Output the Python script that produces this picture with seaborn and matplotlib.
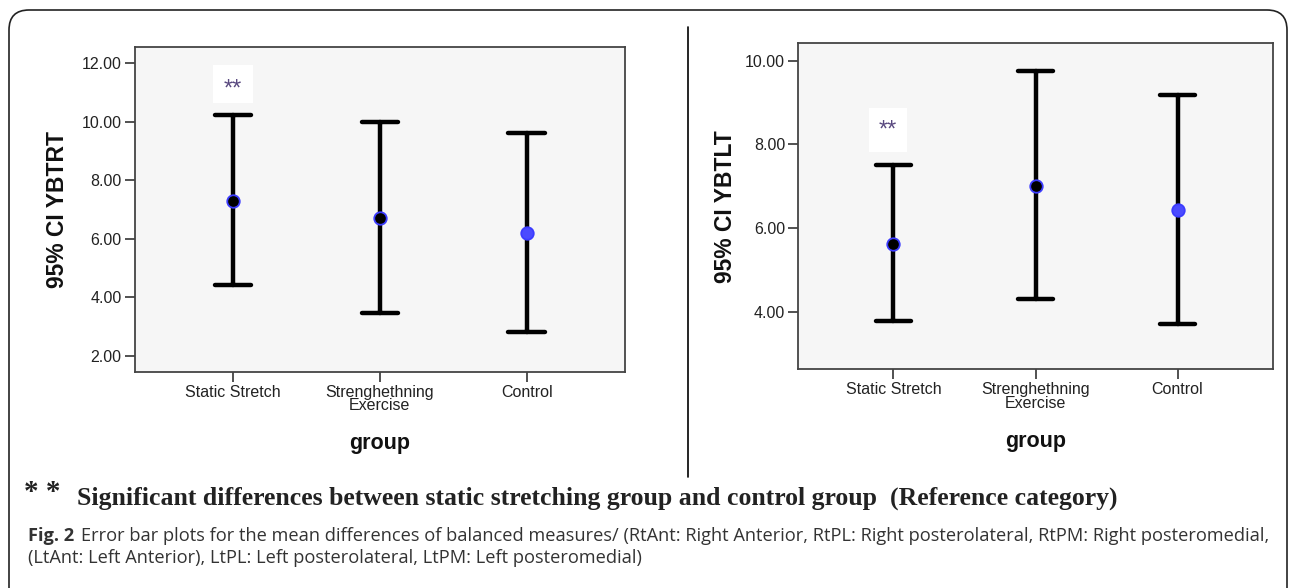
import numpy as np
import pandas as pd
import seaborn as sns
import matplotlib.pyplot as plt
from matplotlib.patches import Rectangle, FancyBboxPatch
from matplotlib.lines import Line2D

# group labels and the 95% CI
groups = ["Static Stretch", "Strenghethning\nExercise", "Control"]

rt_mean = [7.31, 6.71, 6.20]
rt_low = [4.41, 3.47, 2.81]
rt_high = [10.23, 9.99, 9.63]

lt_mean = [5.62, 7.02, 6.44]
lt_low = [3.78, 4.32, 3.72]
lt_high = [7.50, 9.75, 9.18]

rt_ticks = [2, 4, 6, 8, 10, 12]
lt_ticks = [4, 6, 8, 10]

dot_colors = ["black", "black", "#4b4bff"]

note = "Significant differences between static stretching group and control group  (Reference category)"
cap1 = ("Error bar plots for the mean differences of balanced measures/ (RtAnt: Right Anterior, "
        "RtPL: Right posterolateral, RtPM: Right posteromedial,")
cap2 = "(LtAnt: Left Anterior), LtPL: Left posterolateral, LtPM: Left posteromedial)"


def long_form(low, mean, high):
    # each group -> [low, mean, high]; median = mean, min/max = CI ends
    rows = []
    for g, a, m, b in zip(groups, low, mean, high):
        rows += [(g, a), (g, m), (g, b)]
    return pd.DataFrame(rows, columns=["group", "value"])


sns.set_style("ticks")
plt.rcParams["font.family"] = ["Liberation Sans", "DejaVu Sans"]

W, H = 1292, 588
fig = plt.figure(figsize=(W / 100, H / 100), dpi=100)

# outer frame of the figure panel
fig.add_artist(FancyBboxPatch((0.09, -0.5), 12.78, 6.28,
                              boxstyle="round,pad=0,rounding_size=0.2",
                              transform=fig.dpi_scale_trans,
                              fc="none", ec="#222222", lw=1.2))
# separator between the two plots
fig.add_artist(Line2D([688 / W, 688 / W], [1 - 27 / H, 1 - 477 / H],
                      color="black", lw=1.2))


def panel(rect, low, mean, high, ylim, ticks, ylabel, star_y, box, ylab_x):
    ax = fig.add_axes(rect)
    df = long_form(low, mean, high)
    sns.pointplot(data=df, x="group", y="value", hue="group", palette=dot_colors,
                  estimator="median", errorbar=lambda v: (v.min(), v.max()),
                  linestyle="none", capsize=0.25, legend=False, ax=ax,
                  markersize=9, markeredgecolor="#3c3cff", markeredgewidth=1.3,
                  zorder=5,
                  err_kws={"color": "black", "linewidth": 3.2, "zorder": 3})
    ax.set_facecolor("#f6f6f6")
    ax.set_xlim(-0.67, 2.67)
    ax.set_ylim(*ylim)
    ax.set_yticks(ticks)
    ax.set_yticklabels([f"{t:.2f}" for t in ticks])
    ax.tick_params(axis="both", direction="out", length=7, width=1.2,
                   color="#333333", labelsize=11.5, labelcolor="#222222", pad=2.5)
    for s in ax.spines.values():
        s.set_color("#444444")
        s.set_linewidth(1.3)
    for lab in ax.get_xticklabels():
        lab.set_linespacing(0.85)
    ax.set_ylabel(ylabel, fontsize=16.5, fontweight="bold", color="#111111")
    ax.set_xlabel("group", fontsize=15.5, fontweight="bold", color="#111111", va="top")
    ax.yaxis.set_label_coords(ylab_x, 0.5)
    ax.xaxis.set_label_coords(0.5, -0.19)
    # "**" marker in its white box above Static Stretch
    x0, x1, y0, y1 = box
    ax.add_patch(Rectangle((x0, y0), x1 - x0, y1 - y0, fc="white", ec="none", zorder=2))
    ax.text((x0 + x1) / 2, star_y, "**", ha="center", va="center", fontsize=17,
            color="#5a4a80", zorder=4)
    return ax


panel([134.7 / W, 1 - 371.7 / H, 490.3 / W, 325 / H], rt_low, rt_mean, rt_high,
      (1.46, 12.57), rt_ticks, "95% CI YBTRT", 11.12, (-0.135, 0.135, 10.66, 11.93), -0.134)
panel([798.3 / W, 1 - 369.3 / H, 474.4 / W, 326 / H], lt_low, lt_mean, lt_high,
      (2.64, 10.41), lt_ticks, "95% CI YBTLT", 8.33, (-0.175, 0.095, 7.83, 8.87), -0.129)

# significance note
fig.text(24 / W, 1 - 493 / H, "* *", fontsize=21, fontweight="bold",
         family=["Liberation Serif", "DejaVu Serif"], color="#222222", va="center")
fig.text(77 / W, 1 - 498 / H, note, fontsize=18.5, fontweight="bold",
         family=["Liberation Serif", "DejaVu Serif"], color="#222222", va="center")

# figure caption
cap_font = ["Open Sans", "DejaVu Sans"]
fig.text(28 / W, 1 - 536 / H, "Fig. 2", fontsize=13.15, fontweight="bold",
         family=cap_font, color="#333333", va="center")
fig.text(81 / W, 1 - 536 / H, cap1, fontsize=13.15, family=cap_font,
         color="#333333", va="center")
fig.text(28 / W, 1 - 558 / H, cap2, fontsize=13.15, family=cap_font,
         color="#333333", va="center")

fig.savefig("out.png", dpi=100)
